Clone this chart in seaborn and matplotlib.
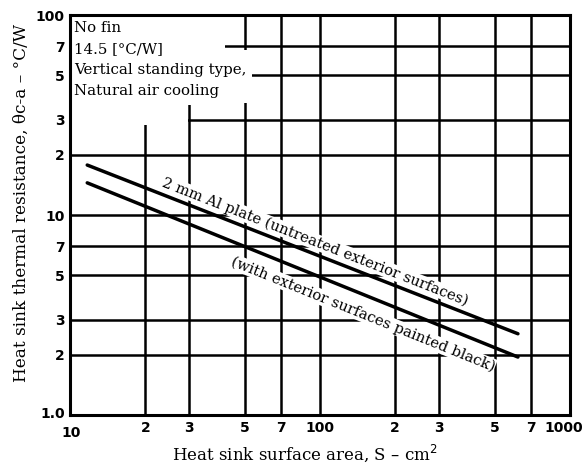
import numpy as np
import matplotlib
matplotlib.use("Agg")
import matplotlib.pyplot as plt
import matplotlib.transforms as mtransforms
from matplotlib.patches import Rectangle
import seaborn as sns

sns.set_theme(style="white")
plt.rcParams["font.family"] = ["DejaVu Sans"]
plt.rcParams["text.color"] = "black"
plt.rcParams["axes.labelcolor"] = "black"

# data
area_cm2 = [11.7, 620]          # heat sink surface area, cm^2
untreated = [17.8, 2.55]        # 2 mm Al plate, untreated exterior
painted = [14.5, 1.95]          # exterior painted black

x_ticks = [10, 20, 30, 50, 70, 100, 200, 300, 500, 700, 1000]
x_labels = ["10", "2", "3", "5", "7", "100", "2", "3", "5", "7", "1000"]
y_ticks = [1, 2, 3, 5, 7, 10, 20, 30, 50, 70, 100]
y_labels = ["1.0", "2", "3", "5", "7", "10", "2", "3", "5", "7", "100"]

SERIF = "DejaVu Serif"

fig = plt.figure(figsize=(5.85, 4.66), dpi=100)
ax = fig.add_axes([0.120, 0.1094, 0.854, 0.858])
ax.set_xscale("log")
ax.set_yscale("log")
ax.set_xlim(10, 1000)
ax.set_ylim(1, 100)

sns.lineplot(x=area_cm2, y=untreated, ax=ax, color="black", lw=2.5, zorder=3)
sns.lineplot(x=area_cm2, y=painted, ax=ax, color="black", lw=2.5, zorder=3)

ax.set_xticks(x_ticks)
ax.set_xticklabels(x_labels)
ax.set_yticks(y_ticks)
ax.set_yticklabels(y_labels)
ax.minorticks_off()
ax.tick_params(length=0, pad=4, labelsize=10, colors="black")
for lab in ax.get_xticklabels() + ax.get_yticklabels():
    lab.set_fontweight("bold")


def nudge(lab, dx, dy):
    off = mtransforms.ScaledTranslation(dx / 72, dy / 72, fig.dpi_scale_trans)
    lab.set_transform(lab.get_transform() + off)


xl = ax.get_xticklabels()
nudge(xl[0], 1, -4)
nudge(xl[-1], -4, 0)
nudge(ax.get_yticklabels()[0], 0, 1.5)

ax.grid(True, which="major", color="black", lw=1.8)
ax.set_axisbelow(True)
for s in ax.spines.values():
    s.set_color("black")
    s.set_linewidth(2.2)

# blank area behind the notes (grid is cut out there in the original)
for (x0, y0, w, h) in [(0, 0.725, 0.235, 0.275), (0, 0.775, 0.25, 0.225),
                       (0, 0.9, 0.31, 0.1), (0, 0.78, 0.364, 0.1325)]:
    ax.add_patch(Rectangle((x0, y0), w, h, transform=ax.transAxes,
                           facecolor="white", edgecolor="none", zorder=1))

ax.text(0.008, 0.985, "No fin\n14.5 [\u00b0C/W]\nVertical standing type,\nNatural air cooling",
        transform=ax.transAxes, ha="left", va="top", fontsize=10.8,
        family=SERIF, linespacing=1.62, color="black", zorder=4)


def line_angle(xs, ys):
    p = ax.transData.transform(np.column_stack([xs, ys]))
    return np.degrees(np.arctan2(p[1, 1] - p[0, 1], p[1, 0] - p[0, 0]))


def label_line(xs, ys, xc, text, dist, va):
    yc = 10 ** np.interp(np.log10(xc), np.log10(xs), np.log10(ys))
    ang = line_angle(xs, ys)
    r = np.radians(ang)
    ax.annotate(text, xy=(xc, yc), xytext=(-np.sin(r) * dist, np.cos(r) * dist),
                textcoords="offset points", rotation=ang, rotation_mode="anchor",
                ha="center", va=va, fontsize=10.6, family=SERIF, color="black",
                zorder=4, bbox=dict(facecolor="white", edgecolor="none", pad=0.5))


label_line(area_cm2, untreated, 92, "2 mm Al plate (untreated exterior surfaces)", 5.5, "baseline")
label_line(area_cm2, painted, 158, "(with exterior surfaces painted black)", -8, "top")

ax.set_xlabel("Heat sink surface area, S \u2013 cm$^2$", family=SERIF,
              fontsize=12, color="black")
ax.xaxis.set_label_coords(0.47, -0.07)
ax.set_ylabel("Heat sink thermal resistance, \u03b8c-a \u2013 \u00b0C/W",
              family=SERIF, fontsize=12.2, color="black")
ax.yaxis.set_label_coords(-0.08, 0.53)

fig.savefig("out.png", dpi=100, facecolor="white")
